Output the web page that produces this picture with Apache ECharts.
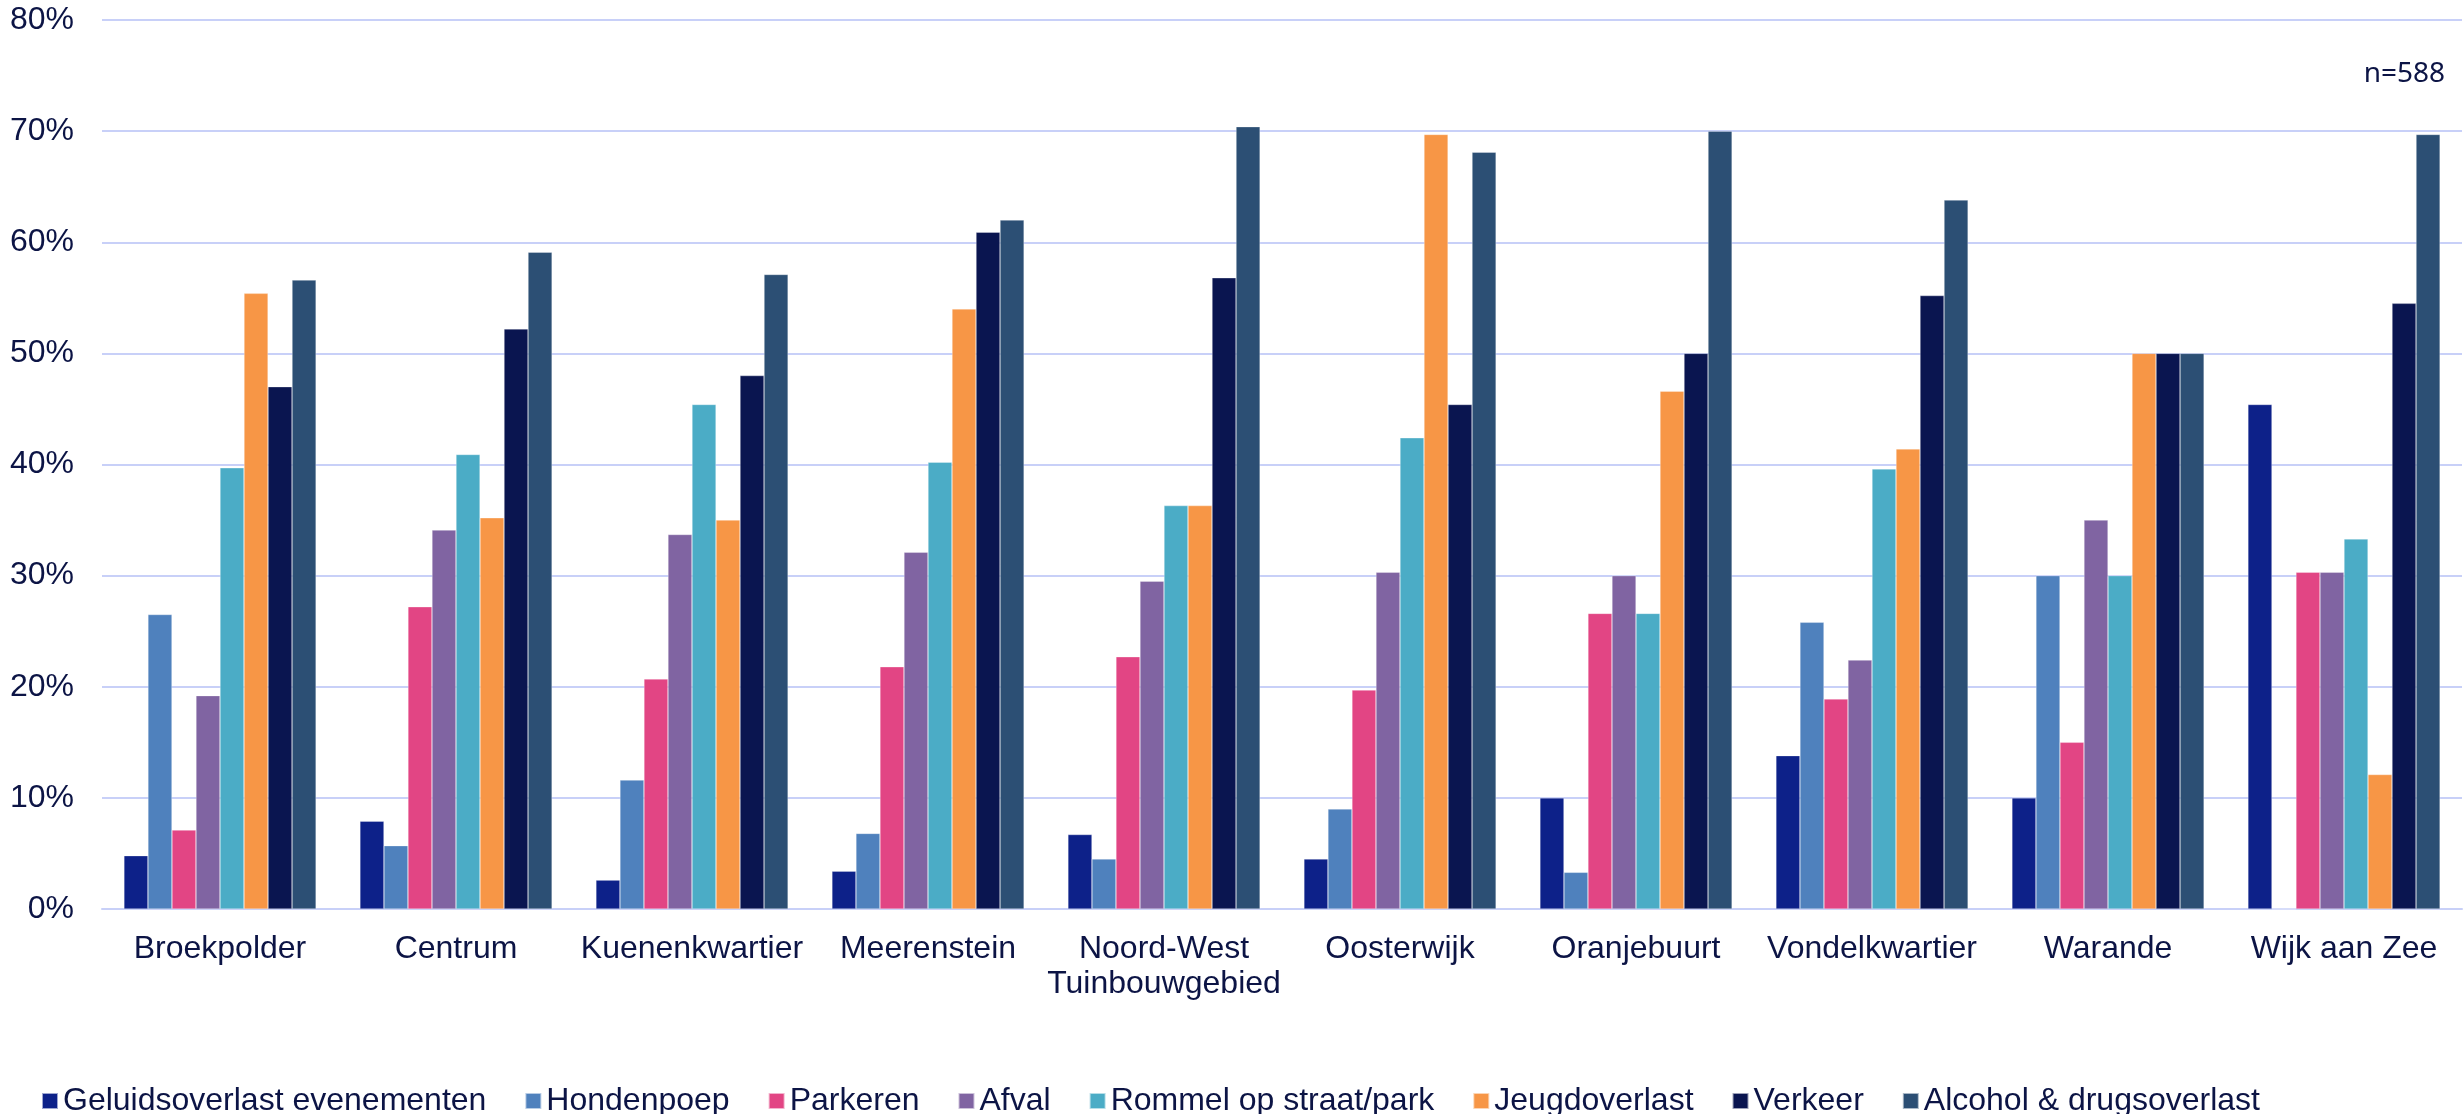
<!DOCTYPE html>
<html>
<head>
<meta charset="utf-8">
<script src="https://cdn.jsdelivr.net/npm/echarts@6/dist/echarts.min.js"></script>
<style>
html,body{margin:0;padding:0;background:#fff;}
#chart{width:2463px;height:1114px;}
</style>
</head>
<body>
<div id="chart"></div>
<script>
var categories = ["Broekpolder","Centrum","Kuenenkwartier","Meerenstein","Noord-West\nTuinbouwgebied","Oosterwijk","Oranjebuurt","Vondelkwartier","Warande","Wijk aan Zee"];
var seriesNames = ["Geluidsoverlast evenementen","Hondenpoep","Parkeren","Afval","Rommel op straat/park","Jeugdoverlast","Verkeer","Alcohol & drugsoverlast"];
var geluid   = [4.8, 7.9, 2.6, 3.4, 6.7, 4.5, 10.0, 13.8, 10.0, 45.4];
var honden   = [26.5, 5.7, 11.6, 6.8, 4.5, 9.0, 3.3, 25.8, 30.0, 0];
var parkeren = [7.1, 27.2, 20.7, 21.8, 22.7, 19.7, 26.6, 18.9, 15.0, 30.3];
var afval    = [19.2, 34.1, 33.7, 32.1, 29.5, 30.3, 30.0, 22.4, 35.0, 30.3];
var rommel   = [39.7, 40.9, 45.4, 40.2, 36.3, 42.4, 26.6, 39.6, 30.0, 33.3];
var jeugd    = [55.4, 35.2, 35.0, 54.0, 36.3, 69.7, 46.6, 41.4, 50.0, 12.1];
var verkeer  = [47.0, 52.2, 48.0, 60.9, 56.8, 45.4, 50.0, 55.2, 50.0, 54.5];
var alcohol  = [56.6, 59.1, 57.1, 62.0, 70.4, 68.1, 70.0, 63.8, 50.0, 69.7];
var yTicks = [0, 10, 20, 30, 40, 50, 60, 70, 80];
var sampleNote = "n=588";

var colors = ["#0d2189","#4f81bd","#e24584","#8064a2","#4bacc6","#f79646","#0a1550","#2c4f74"];
var allData = [geluid, honden, parkeren, afval, rommel, jeugd, verkeer, alcohol];
var textColor = "#0c1445";
var font = "'Liberation Sans', Arial, sans-serif";

var chart = echarts.init(document.getElementById('chart'), null, {renderer:'canvas'});
var series = seriesNames.map(function(n, i){
  return {
    name: n,
    type: 'bar',
    data: allData[i],
    barGap: '0%',
    barCategoryGap: '18.6%',
    itemStyle: {color: colors[i], borderColor: 'rgba(255,255,255,0.6)', borderWidth: 0.5},
    emphasis: {disabled: true}
  };
});
chart.setOption({
  animation: false,
  color: colors,
  grid: {left: 102, right: 1, top: 20, bottom: 205, containLabel: false},
  xAxis: {
    type: 'category',
    data: categories,
    axisLine: {show: true, lineStyle: {color: '#c8d0f8', width: 2}},
    axisTick: {show: false},
    axisLabel: {color: textColor, fontSize: 32, fontFamily: font, margin: 23, lineHeight: 35, interval: 0}
  },
  yAxis: {
    type: 'value',
    min: yTicks[0],
    max: yTicks[yTicks.length-1],
    interval: 10,
    axisLine: {show: false},
    axisTick: {show: false},
    splitLine: {lineStyle: {color: '#c8d0f8', width: 2}},
    axisLabel: {color: textColor, fontSize: 32, fontFamily: font, margin: 28, formatter: '{value}%'}
  },
  legend: {
    data: seriesNames,
    left: 36,
    top: 1080,
    icon: 'rect',
    itemWidth: 16,
    itemHeight: 16,
    itemGap: 38,
    textStyle: {color: textColor, fontSize: 32, fontFamily: font, padding: [0,0,0,0]},
    selectedMode: false
  },
  graphic: [{
    type: 'text',
    right: 18,
    top: 60,
    style: {text: sampleNote, fill: textColor, fontSize: 28, fontFamily: 'Noto Sans, sans-serif'}
  }],
  series: series
});
</script>
</body>
</html>
